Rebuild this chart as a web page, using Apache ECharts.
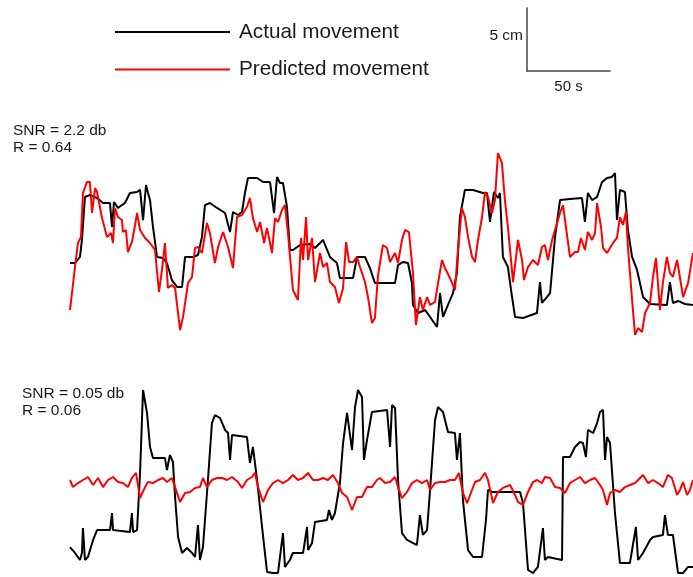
<!DOCTYPE html>
<html>
<head>
<meta charset="utf-8">
<script src="https://cdn.jsdelivr.net/npm/echarts@6/dist/echarts.min.js"></script>
<style>html,body{margin:0;padding:0;background:#fff}#c{width:693px;height:577px}</style>
</head>
<body>
<div id="c"></div>
<script>
// time in seconds, position in cm
const actualTop = [[0,6.03],[3.0,6.03],[6.0,6.51],[7.2,7.86],[9.0,11.27],[12.0,11.43],[16.3,11.19],[19.9,10.79],[24.1,10.79],[25.3,8.89],[26.5,10.87],[28.9,10.40],[31.3,10.63],[33.1,10.79],[36.1,11.59],[40.4,11.67],[42.2,11.83],[44.0,9.44],[45.8,12.22],[47.0,11.59],[48.2,11.03],[50.0,8.89],[52.4,6.51],[56.0,6.43],[58.4,6.03],[61.4,4.68],[64.5,4.13],[67.5,4.13],[69.3,6.51],[74.1,6.51],[77.1,6.67],[79.5,8.10],[81.3,10.63],[84.3,10.79],[88.6,10.40],[93.4,10.00],[96.4,8.49],[98.2,10.08],[101.2,9.84],[103.6,10.08],[105.4,11.59],[107.2,12.78],[112.7,12.78],[116.3,12.46],[120.5,12.46],[122.9,10.00],[124.7,12.86],[126.5,12.38],[128.3,12.38],[130.7,10.48],[132.5,7.06],[134.3,7.06],[138.6,7.46],[144.6,7.54],[147.6,7.22],[152.4,7.86],[156.6,6.51],[160.8,6.03],[162.6,4.84],[170.5,4.84],[172.9,6.51],[177.7,6.51],[180.7,5.63],[183.7,4.44],[195.8,4.44],[197.6,5.87],[200.6,6.11],[203.6,6.03],[206.0,4.44],[206.6,2.70],[209.6,2.06],[213.9,2.30],[216.9,1.75],[221.1,0.95],[222.9,3.65],[224.7,1.75],[227.7,2.70],[230.7,3.65],[233.1,5.24],[234.9,9.68],[237.9,11.83],[242.8,11.83],[248.8,11.59],[251.2,11.59],[253.0,9.29],[255.4,11.67],[257.8,11.19],[259.0,11.59],[260.8,6.51],[263.8,5.71],[266.3,3.33],[268.1,1.75],[272.9,1.67],[281.3,2.06],[283.1,4.52],[284.3,2.86],[287.3,3.33],[289.2,3.65],[292.2,8.10],[295.2,11.03],[301.2,11.11],[308.4,11.19],[310.2,9.29],[312.0,11.59],[314.5,11.03],[317.5,11.27],[320.5,12.46],[323.5,12.78],[326.5,12.86],[328.3,13.17],[329.5,9.44],[331.3,11.83],[334.3,11.67],[336.1,8.65],[338.6,6.51],[341.6,5.48],[345.2,3.33],[349.4,2.78],[359.6,2.70],[361.4,4.52],[363.2,2.86],[366.3,3.02],[370.5,2.78],[375.3,2.70]];

const predictedTop = [[0,2.30],[3.0,5.71],[4.8,7.62],[6.6,8.10],[7.8,11.59],[10.2,12.46],[12.0,12.46],[13.3,10.00],[15.1,11.98],[16.3,11.67],[19.3,9.60],[22.3,8.10],[24.7,8.41],[25.9,7.62],[27.1,10.40],[28.9,9.68],[31.3,9.44],[31.9,8.49],[33.7,8.65],[34.9,6.90],[37.3,7.70],[39.2,9.05],[40.4,10.00],[42.2,8.65],[45.2,8.02],[48.2,7.62],[51.2,7.06],[53.6,3.73],[55.4,5.48],[57.2,7.62],[59.0,4.05],[61.4,4.29],[63.3,4.05],[66.3,0.71],[68.1,1.75],[71.1,4.44],[73.5,4.92],[75.3,7.22],[77.1,7.30],[79.5,6.83],[82.5,9.21],[84.3,8.41],[87.3,6.03],[89.2,7.30],[92.2,8.49],[95.2,7.30],[98.2,5.63],[100.6,9.68],[103.6,9.84],[106.6,10.48],[108.4,11.19],[110.2,9.60],[112.7,8.49],[114.5,9.29],[116.9,7.62],[118.7,8.81],[121.7,6.83],[123.5,9.60],[125.3,9.29],[127.7,10.24],[129.5,10.63],[131.3,8.41],[134.3,3.89],[137.3,3.10],[139.2,8.02],[140.4,6.27],[142.2,9.68],[143.4,6.27],[145.8,8.02],[147.6,4.52],[150.6,6.83],[152.4,5.71],[154.8,6.03],[156.6,4.52],[159.6,4.13],[162.0,2.86],[164.5,4.05],[166.3,7.70],[168.1,6.11],[170.5,6.11],[172.9,6.51],[174.7,5.71],[177.7,4.52],[179.5,3.33],[181.9,1.27],[183.7,1.67],[185.5,5.00],[186.7,5.08],[188.5,7.46],[191.0,7.22],[192.8,6.11],[195.8,6.83],[197.6,6.03],[200.0,7.86],[201.8,8.65],[204.2,8.49],[206.6,5.24],[208.4,1.11],[210.8,3.33],[212.6,2.30],[215.1,3.33],[216.9,2.70],[219.9,2.94],[221.7,4.44],[224.1,6.27],[225.9,5.63],[228.9,4.84],[231.9,3.89],[233.7,7.06],[236.1,10.40],[237.9,9.68],[239.8,8.10],[242.2,6.51],[244.0,6.11],[245.8,7.86],[248.2,9.68],[250.0,11.67],[251.8,11.27],[254.2,10.00],[256.0,11.03],[257.8,14.76],[260.2,13.97],[262.0,11.03],[263.8,8.89],[266.9,4.52],[269.9,7.86],[272.3,6.27],[273.5,4.68],[275.9,5.71],[278.9,6.27],[281.9,5.87],[284.3,7.30],[286.1,7.46],[287.9,6.27],[290.4,7.86],[293.4,9.21],[295.2,10.00],[297.0,10.63],[299.4,8.25],[301.2,6.51],[304.2,6.90],[306.0,6.90],[307.8,8.02],[310.2,7.06],[312.0,8.49],[314.5,7.86],[316.3,8.41],[317.5,10.79],[319.9,8.89],[321.1,7.22],[323.5,6.83],[325.3,7.22],[327.1,7.62],[329.5,8.02],[331.3,9.68],[333.1,9.05],[334.9,10.08],[336.1,7.30],[338.6,3.10],[340.4,0.32],[342.2,0.87],[344.6,0.56],[346.4,2.06],[349.4,2.86],[351.2,4.92],[353.0,6.43],[355.4,2.30],[357.2,4.52],[359.6,6.51],[361.4,5.24],[363.2,4.92],[365.7,6.27],[367.5,4.84],[369.3,3.33],[372.3,4.44],[375.3,6.83]];

const actualBottom = [[0,2.14],[3.0,1.67],[6.0,1.11],[7.2,1.67],[7.8,3.65],[9.0,1.11],[10.8,1.35],[13.9,2.70],[16.3,3.49],[24.1,3.49],[25.3,4.84],[25.9,3.49],[36.1,3.33],[37.3,4.84],[38.0,3.33],[40.4,3.49],[42.2,8.02],[44.0,14.60],[46.4,12.78],[48.2,10.08],[50.0,9.21],[57.2,9.21],[58.4,8.25],[60.2,9.44],[62.0,8.89],[63.3,6.11],[65.1,2.94],[67.5,1.67],[70.5,2.06],[73.5,1.67],[75.3,1.35],[77.1,3.89],[78.3,1.11],[80.1,2.14],[83.1,7.46],[85.5,11.98],[87.3,12.62],[90.4,12.38],[93.4,11.43],[95.2,11.19],[96.4,9.05],[97.6,11.03],[106.6,10.87],[108.4,8.81],[110.2,10.08],[112.7,7.46],[115.7,3.73],[118.7,0.16],[122.3,0.08],[125.3,0.08],[128.3,3.25],[129.5,0.56],[132.5,1.11],[134.3,1.67],[140.4,1.67],[142.8,3.73],[143.4,1.90],[145.8,2.46],[147.6,4.13],[154.8,4.29],[156.0,5.08],[157.8,4.29],[159.6,4.84],[162.6,7.22],[164.5,10.40],[166.9,12.78],[169.9,9.84],[171.7,13.25],[173.5,14.60],[175.9,14.05],[177.1,9.05],[178.9,10.63],[181.9,12.86],[191.0,13.02],[192.8,10.08],[194.0,13.41],[195.8,13.17],[197.6,7.46],[200.0,3.25],[203.0,2.70],[209.0,2.30],[210.8,4.68],[212.6,3.10],[215.1,3.49],[216.9,6.67],[219.9,12.22],[221.7,13.25],[224.7,12.86],[227.7,11.27],[231.9,11.19],[233.1,9.05],[234.9,11.19],[236.7,5.87],[239.8,1.90],[242.8,1.35],[248.2,1.35],[250.6,4.29],[251.8,6.67],[254.2,6.51],[271.1,6.51],[272.9,5.63],[275.9,0.32],[278.9,0.08],[281.9,0.56],[284.9,3.65],[286.1,1.11],[287.9,1.35],[296.4,1.11],[297.0,9.29],[301.2,9.29],[304.2,10.08],[307.2,10.48],[309.0,10.40],[310.8,9.29],[312.0,11.43],[315.1,11.19],[317.5,11.98],[319.3,12.86],[321.1,13.02],[322.3,9.05],[323.5,10.87],[325.3,10.40],[328.3,4.84],[331.3,0.87],[337.3,0.87],[340.9,3.73],[342.2,1.11],[345.2,1.67],[349.4,2.70],[351.2,2.94],[357.2,3.10],[358.4,4.68],[360.2,3.10],[363.2,3.10],[366.3,0.08],[369.3,0.08],[372.3,0.56],[375.3,0.56]];

const predictedBottom = [[0,7.46],[1.8,6.90],[4.8,7.22],[7.8,7.46],[10.8,7.70],[13.9,7.06],[16.9,7.62],[19.9,6.90],[22.9,7.46],[25.9,7.70],[28.9,7.30],[31.9,7.22],[34.9,6.90],[37.3,7.62],[39.8,8.02],[42.2,6.03],[45.2,6.90],[47.0,7.30],[50.0,7.22],[53.0,7.46],[56.0,7.62],[58.4,7.30],[61.4,7.62],[63.3,6.90],[66.3,5.71],[69.3,6.43],[72.3,6.51],[75.3,6.83],[78.3,6.90],[80.1,7.62],[82.5,6.90],[85.5,7.46],[88.6,7.62],[91.6,7.62],[94.6,7.46],[97.6,7.70],[101.2,7.30],[103.6,6.83],[106.6,7.46],[109.6,7.70],[111.4,8.02],[113.3,6.90],[116.3,5.71],[119.3,6.67],[122.3,7.22],[125.3,7.46],[128.3,7.22],[131.3,7.46],[134.3,7.86],[137.3,7.46],[140.4,7.62],[143.4,8.02],[146.4,7.46],[149.4,7.46],[152.4,7.62],[155.4,7.46],[158.4,7.86],[161.4,7.22],[163.9,6.43],[166.9,6.11],[169.9,5.08],[172.9,6.11],[175.9,6.11],[178.9,6.90],[181.9,6.90],[184.9,7.46],[186.7,7.62],[189.8,7.22],[192.8,7.30],[195.8,7.70],[197.6,6.90],[200.0,6.03],[203.0,6.51],[206.0,7.22],[209.0,7.46],[212.0,7.22],[215.1,7.46],[216.9,6.67],[219.9,7.22],[222.9,7.30],[225.9,7.30],[228.9,7.46],[231.9,7.46],[234.3,8.02],[236.7,6.43],[239.2,5.63],[241.0,6.27],[244.0,7.30],[247.0,7.46],[250.0,8.02],[251.8,7.46],[254.8,5.63],[257.8,6.51],[260.8,6.83],[265.1,7.06],[268.1,6.27],[269.9,5.71],[272.9,5.48],[275.9,6.51],[278.9,7.30],[281.3,7.46],[284.3,7.22],[286.1,7.70],[289.2,7.62],[292.2,6.90],[295.2,6.83],[298.2,6.43],[301.2,7.22],[304.2,7.46],[307.2,7.70],[310.2,7.22],[313.2,7.46],[316.3,7.62],[319.3,7.06],[321.1,6.67],[323.5,5.48],[325.3,6.43],[328.3,6.67],[331.3,6.51],[334.3,6.90],[337.3,7.06],[340.4,7.22],[343.4,7.62],[345.2,7.86],[348.2,7.22],[351.2,7.46],[354.2,7.22],[357.2,6.90],[360.2,7.86],[362.6,7.62],[365.7,6.27],[367.5,6.67],[369.3,7.30],[371.7,6.27],[373.5,6.67],[375.3,7.46]];

const seriesNames = ['Actual movement', 'Predicted movement'];
const panelNotes = ['SNR = 2.2 db\nR = 0.64', 'SNR = 0.05 db\nR = 0.06'];
const scaleBar = { seconds: 50, cm: 5, secLabel: '50 s', cmLabel: '5 cm' };
const timeMax = 375.3;
const posMax = 15;

const FONT = 'Liberation Sans, Arial, sans-serif';
const chart = echarts.init(document.getElementById('c'), null, { renderer: 'canvas' });

const hiddenX = (gi) => ({ type: 'value', gridIndex: gi, min: 0, max: timeMax, show: false });
const hiddenY = (gi) => ({ type: 'value', gridIndex: gi, min: 0, max: posMax, show: false });

const lineSeries = (name, data, gi, color) => ({
  name, type: 'line', data, xAxisIndex: gi, yAxisIndex: gi,
  showSymbol: false, symbol: 'none', smooth: false,
  lineStyle: { color, width: 2 }, itemStyle: { color },
  emphasis: { disabled: true }
});

const noteStyle = { fontSize: 15.5, fontWeight: 'normal', color: '#1a1a1a', lineHeight: 17, fontFamily: FONT };

chart.setOption({
  animation: false,
  backgroundColor: '#fff',
  textStyle: { fontFamily: FONT },
  title: [
    { text: panelNotes[0], left: 8, top: 117, textStyle: noteStyle },
    { text: panelNotes[1], left: 17, top: 380, textStyle: noteStyle }
  ],
  legend: {
    data: seriesNames,
    orient: 'vertical',
    left: 110, top: 16,
    icon: 'rect',
    itemWidth: 115, itemHeight: 2,
    itemGap: 15.6,
    selectedMode: false,
    textStyle: { fontSize: 20.7, color: '#1a1a1a', fontFamily: FONT, lineHeight: 22, padding: [0, 0, 0, 4] }
  },
  grid: [
    { left: 70, top: 150, width: 623, height: 189 },
    { left: 70, top: 385, width: 623, height: 189 },
    { left: 527, top: 8, width: 83, height: 63 }
  ],
  xAxis: [
    hiddenX(0), hiddenX(1),
    { type: 'value', gridIndex: 2, min: 0, max: scaleBar.seconds, interval: scaleBar.seconds,
      axisLine: { show: true, onZero: false, lineStyle: { color: '#444', width: 1.5 } },
      axisTick: { show: false }, axisLabel: { show: false }, splitLine: { show: false },
      name: scaleBar.secLabel, nameLocation: 'middle', nameGap: 8,
      nameTextStyle: { fontSize: 15, color: '#1a1a1a', fontFamily: FONT } }
  ],
  yAxis: [
    hiddenY(0), hiddenY(1),
    { type: 'value', gridIndex: 2, min: 0, max: scaleBar.cm, interval: scaleBar.cm,
      axisLine: { show: true, onZero: false, lineStyle: { color: '#444', width: 1.5 } },
      axisTick: { show: false }, axisLabel: { show: false }, splitLine: { show: false },
      name: scaleBar.cmLabel, nameLocation: 'middle', nameGap: 4, nameRotate: 0,
      nameTextStyle: { fontSize: 15.5, color: '#1a1a1a', fontFamily: FONT, verticalAlign: 'bottom', lineHeight: 7 } }
  ],
  series: [
    lineSeries(seriesNames[0], actualTop, 0, '#000'),
    lineSeries(seriesNames[1], predictedTop, 0, '#ff0000'),
    lineSeries(seriesNames[0], actualBottom, 1, '#000'),
    lineSeries(seriesNames[1], predictedBottom, 1, '#ff0000')
  ]
});
</script>
</body>
</html>
